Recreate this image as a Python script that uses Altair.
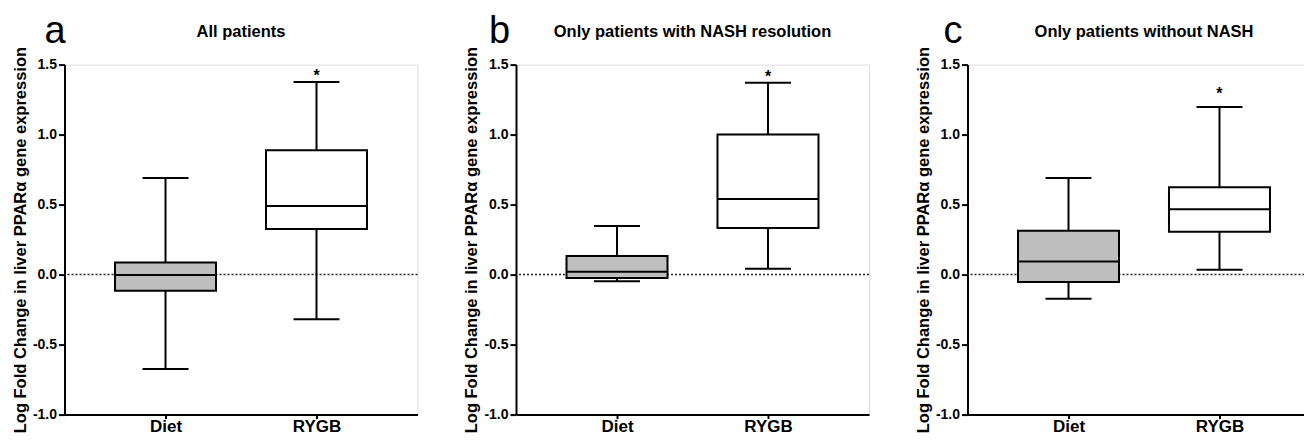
import altair as alt
import pandas as pd

groups = ["Diet", "RYGB"]
panel_keys = ["a", "b", "c"]
panel_letters = ["a", "b", "c"]
panel_titles = [
    "All patients",
    "Only patients with NASH resolution",
    "Only patients without NASH",
]
y_title = "Log Fold Change in liver PPARα gene expression"
y_ticks = [-1.0, -0.5, 0.0, 0.5, 1.0, 1.5]

# values per panel, ordered [Diet, RYGB]
whisker_low = {"a": [-0.675, -0.319], "b": [-0.047, 0.041], "c": [-0.173, 0.034]}
q1 = {"a": [-0.115, 0.325], "b": [-0.024, 0.332], "c": [-0.052, 0.306]}
median = {"a": [-0.003, 0.49], "b": [0.02, 0.54], "c": [0.093, 0.466]}
q3 = {"a": [0.086, 0.889], "b": [0.133, 1.001], "c": [0.313, 0.624]}
whisker_high = {"a": [0.69, 1.376], "b": [0.348, 1.371], "c": [0.69, 1.198]}
star_group = "RYGB"
star_y = {"a": 1.444, "b": 1.437, "c": 1.315}
box_fill = ["#bebebe", "#ffffff"]

FONT = "Liberation Sans"
W, H = 353, 350
letter_dx = {"a": -20, "b": -27, "c": -24}

y_scale = alt.Scale(domain=[-1, 1.5], nice=False, zero=False)
x_scale = alt.Scale(type="point", padding=0.669, domain=groups)

y_axis = alt.Axis(
    title=y_title, values=y_ticks, grid=False,
    labelExpr="datum.value < 0 ? '-' + format(-datum.value, '.1f') : format(datum.value, '.1f')",
    domainColor="black", domainWidth=2, tickColor="black", tickWidth=2, tickSize=6,
    labelFont=FONT, labelFontSize=14, labelFontWeight="bold", labelColor="black",
    labelPadding=2, labelFlush=False, labelOverlap=False,
    titleFont=FONT, titleFontSize=16.5, titleFontWeight="bold", titleColor="black",
    titlePadding=4,
)
x_axis = alt.Axis(
    title=None, labelAngle=0, labelFont=FONT, labelFontSize=17, labelFontWeight="bold",
    labelColor="black", tickSize=4, tickWidth=2, tickColor="black",
    domainColor="black", domainWidth=2, labelPadding=0,
)


def make_panel(i):
    k = panel_keys[i]
    df = pd.DataFrame({
        "group": groups, "lo": whisker_low[k], "q1": q1[k], "med": median[k],
        "q3": q3[k], "hi": whisker_high[k], "fill": box_fill,
    })
    X = alt.X("group:N", scale=x_scale, axis=x_axis, sort=groups)
    base = alt.Chart(df)
    zero = alt.Chart(pd.DataFrame({"y": [0.0]})).mark_rule(
        strokeDash=[2, 2], strokeWidth=1.5, color="#222222"
    ).encode(y=alt.Y("y:Q", scale=y_scale, axis=y_axis))
    whisk = base.mark_rule(color="black", strokeWidth=2).encode(
        x=X, y=alt.Y("lo:Q", scale=y_scale, axis=y_axis), y2="hi:Q")
    box = base.mark_bar(size=101, stroke="black", strokeWidth=2).encode(
        x=X, y=alt.Y("q1:Q", scale=y_scale, axis=y_axis), y2="q3:Q",
        fill=alt.Fill("fill:N", scale=None))
    med = base.mark_tick(size=101, thickness=2, color="black", opacity=1).encode(
        x=X, y=alt.Y("med:Q", scale=y_scale, axis=y_axis))
    cap_lo = base.mark_tick(size=46, thickness=2, color="black", opacity=1).encode(
        x=X, y=alt.Y("lo:Q", scale=y_scale, axis=y_axis))
    cap_hi = base.mark_tick(size=46, thickness=2, color="black", opacity=1).encode(
        x=X, y=alt.Y("hi:Q", scale=y_scale, axis=y_axis))
    star = alt.Chart(pd.DataFrame({"group": [star_group], "y": [star_y[k]], "t": ["*"]})).mark_text(
        font=FONT, fontSize=16, fontWeight="bold", baseline="alphabetic", dy=9, color="black"
    ).encode(x=X, y=alt.Y("y:Q", scale=y_scale, axis=y_axis), text="t:N")
    letter = alt.Chart(pd.DataFrame({"t": [panel_letters[i]]})).mark_text(
        font=FONT, fontSize=38, align="left", baseline="alphabetic", color="black"
    ).encode(text="t:N", x=alt.value(letter_dx[k]), y=alt.value(-22))
    title = alt.Chart(pd.DataFrame({"t": [panel_titles[i]]})).mark_text(
        font=FONT, fontSize=16.5, fontWeight="bold", align="center", baseline="alphabetic",
        color="black"
    ).encode(text="t:N", x=alt.value(W / 2), y=alt.value(-27.5))
    return alt.layer(zero, whisk, box, med, cap_lo, cap_hi, star, letter, title).properties(
        width=W, height=H)


chart = alt.hconcat(
    *[make_panel(i) for i in range(3)], spacing=98.5, bounds="flush"
).properties(
    padding={"left": 3.5, "top": 3.6, "right": -19, "bottom": 0}
).configure_view(stroke="black", strokeWidth=2).configure(font=FONT, background="white")

chart.save("out.html", embed_options={"renderer": "svg", "actions": False})
